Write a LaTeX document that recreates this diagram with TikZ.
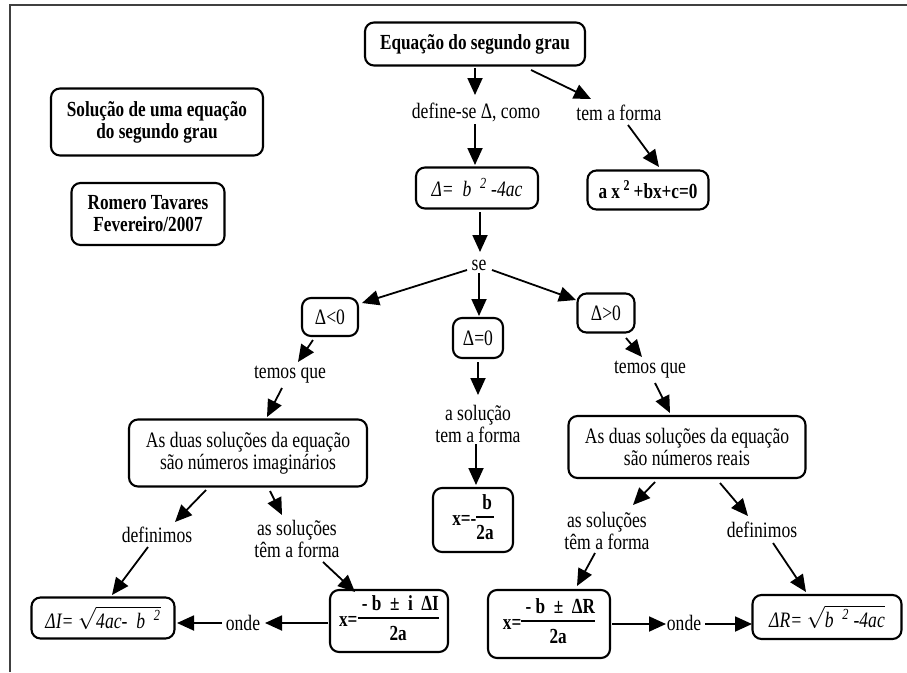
\documentclass[tikz,border=0pt]{standalone}
\usepackage{fix-cm}
\usepackage{amsmath}
\usepackage{fontspec}
\setmainfont[FakeStretch=0.8]{Liberation Serif}
\usetikzlibrary{arrows.meta,calc}
\newcommand{\frc}[2]{{\setlength{\arrayrulewidth}{1.6pt}\renewcommand{\arraystretch}{1.0}\begin{tabular}{@{}c@{}}#1\\\hline\rule{0pt}{21pt}#2\end{tabular}}}
\tikzset{
  box/.style={draw, line width=2.1pt, rounded corners=9pt, align=center, inner sep=0pt},
  bbox/.style={box, font=\bfseries\fontsize{21.5}{22}\selectfont},
  rbox/.style={box, font=\fontsize{22}{22}\selectfont},
  lbl/.style={align=center, inner sep=1pt, font=\fontsize{22}{22}\selectfont},
  arr/.style={line width=1.8pt, -{Triangle[length=17pt,width=15pt]}},
  frame/.style={line width=2.5pt, black!75}
}
\begin{document}
\begin{tikzpicture}[x=1pt,y=-1pt]
\useasboundingbox (0,0) rectangle (907,672);
\draw[frame] (10,672) -- (10,5) -- (907,5);

% boxes
\node[bbox, minimum width=220pt, minimum height=43pt] (eq) at (475,44) {Equação do segundo grau};
\node[bbox, minimum width=212pt, minimum height=67pt] (sol) at (157,122) {Solução de uma equação\\do segundo grau};
\node[bbox, minimum width=153pt, minimum height=62pt] (rom) at (148,214) {Romero Tavares\\Fevereiro/2007};
\node[rbox, minimum width=122pt, minimum height=41pt] (delta) at (477,188) {\itshape Δ=~~b~~\textsuperscript{2}~-4ac};
\node[bbox, minimum width=121pt, minimum height=39pt] (quad) at (648,190) {a x\,\textsuperscript{2}\,+bx+c=0};
\node[rbox, minimum width=56pt, minimum height=38pt] (lt) at (330,317) {Δ<0};
\node[rbox, minimum width=50pt, minimum height=40pt] (eqz) at (478,338) {Δ=0};
\node[rbox, minimum width=57pt, minimum height=39pt] (gt) at (606,313) {Δ>0};
\node[rbox, minimum width=238pt, minimum height=67pt] (imag) at (248,453) {As duas soluções da equação\\são números imaginários};
\node[rbox, minimum width=237pt, minimum height=62pt] (reais) at (687,447) {As duas soluções da equação\\são números reais};
\node[bbox, minimum width=80pt, minimum height=64pt] (xb) at (473,520) {x=-\frc{~b~}{2a}};
\node[rbox, minimum width=143pt, minimum height=41pt] (dI) at (103,618) {\itshape ΔI=~$\sqrt{\text{\itshape 4ac-~~b~~\textsuperscript{2}}}$};
\node[bbox, minimum width=118pt, minimum height=62pt] (xI) at (389,621) {x=\frc{~- b~ ±~ i~ ΔI}{2a}};
\node[bbox, minimum width=122pt, minimum height=68pt] (xR) at (549,624) {x=\frc{~- b~ ±~ ΔR~}{2a}};
\node[rbox, minimum width=149pt, minimum height=44pt] (dR) at (827,617) {\itshape ΔR=~$\sqrt{\text{\itshape b~~\textsuperscript{2}~-4ac}}$};

% labels
\node[lbl] (def) at (476,112) {define-se Δ, como};
\node[lbl] (tem) at (619,113) {tem a forma};
\node[lbl] (se) at (479,265) {se};
\node[lbl] (temos1) at (290,375) {temos que};
\node[lbl] (temos2) at (650,370) {temos que};
\node[lbl] (asol0) at (478,424) {a solução\\tem a forma};
\node[lbl] (def1) at (157,535) {definimos};
\node[lbl] (asol1) at (297,539) {as soluções\\têm a forma};
\node[lbl] (asol2) at (607,531) {as soluções\\têm a forma};
\node[lbl] (def2) at (762,530) {definimos};
\node[lbl] (onde1) at (243,623) {onde};
\node[lbl] (onde2) at (684,623) {onde};

% connectors
\draw[arr] ($(eq.center)+(0,24)$) -- ($(def.center)+(-1,-17)$);
\draw[arr] ($(eq.center)+(56,26)$) -- ($(tem.center)+(-28,-14)$);
\draw[arr] ($(def.center)+(-1,12)$) -- ($(delta.center)+(-2,-23)$);
\draw[arr] ($(tem.center)+(9,12)$) -- ($(quad.center)+(11,-23)$);
\draw[arr] ($(delta.center)+(3,24)$) -- ($(se.center)+(1,-13)$);
\draw[arr] ($(se.center)+(-12,5)$) -- ($(lt.center)+(32,-14)$);
\draw[arr] ($(se.center)+(0,8)$) -- ($(eqz.center)+(1,-22)$);
\draw[arr] ($(se.center)+(13,5)$) -- ($(gt.center)+(-30,-13)$);
\draw[arr] ($(lt.center)+(-17,23)$) -- ($(temos1.center)+(8,-13)$);
\draw[arr] ($(temos1.center)+(-8,13)$) -- ($(imag.center)+(19,-36)$);
\draw[arr] ($(gt.center)+(20,25)$) -- ($(temos2.center)+(-8,-13)$);
\draw[arr] ($(temos2.center)+(5,13)$) -- ($(reais.center)+(-17,-34)$);
\draw[arr] ($(eqz.center)+(0,24)$) -- ($(asol0.center)+(0,-29)$);
\draw[arr] ($(asol0.center)+(-2,20)$) -- ($(xb.center)+(3,-35)$);
\draw[arr] ($(imag.center)+(-42,37)$) -- ($(def1.center)+(18,-13)$);
\draw[arr] ($(imag.center)+(22,38)$) -- ($(asol1.center)+(-15,-24)$);
\draw[arr] ($(def1.center)+(-9,12)$) -- ($(dI.center)+(9,-23)$);
\draw[arr] ($(asol1.center)+(26,23)$) -- ($(xI.center)+(-34,-29)$);
\draw[arr] ($(xI.center)+(-61,2)$) -- ($(onde1.center)+(22,0)$);
\draw[arr] ($(onde1.center)+(-21,0)$) -- ($(dI.center)+(74,5)$);
\draw[arr] ($(reais.center)+(-32,35)$) -- ($(asol2.center)+(26,-26)$);
\draw[arr] ($(reais.center)+(33,36)$) -- ($(def2.center)+(-14,-14)$);
\draw[arr] ($(asol2.center)+(-12,22)$) -- ($(xR.center)+(28,-38)$);
\draw[arr] ($(def2.center)+(11,13)$) -- ($(dR.center)+(-21,-25)$);
\draw[arr] ($(xR.center)+(63,0)$) -- ($(onde2.center)+(-18,1)$);
\draw[arr] ($(onde2.center)+(21,1)$) -- ($(dR.center)+(-75,7)$);
\end{tikzpicture}
\end{document}
